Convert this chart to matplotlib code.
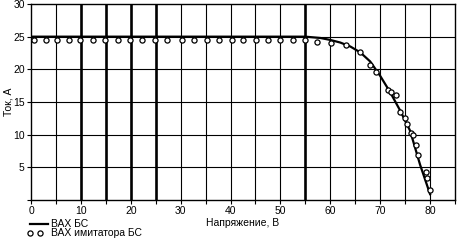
import matplotlib
matplotlib.use("Agg")
import matplotlib.pyplot as plt
from matplotlib.lines import Line2D

plt.rcParams['font.family'] = ['Liberation Sans', 'DejaVu Sans']

# Solar battery I-V curve (line)
bs_voltage = [0, 55, 58, 60, 62, 64, 66, 68, 70, 72, 74, 76, 78, 80]
bs_current = [25, 25, 24.8, 24.5, 24.1, 23.5, 22.6, 21.2, 19.0, 16.5, 13.7, 10.6, 5.4, 0.9]

# Simulator I-V points (circles)
sim_voltage = [0.7, 3.1, 5.2, 7.6, 9.8, 12.5, 14.8, 17.4, 19.8, 22.3, 24.8, 27.2,
               30.2, 32.7, 35.2, 37.6, 40.2, 42.6, 45.2, 47.5, 50.0, 52.5, 54.9,
               57.3, 60.2, 63.2, 65.9, 67.9, 69.2, 71.5, 72.2, 73.2, 73.9, 74.9,
               75.3, 76.2, 76.5, 77.1, 77.5, 79.1, 79.3, 79.9]
sim_current = [24.55] * 23 + [24.2, 24.0, 23.7, 22.7, 20.7, 19.6, 16.9, 16.6, 16.1,
                              13.5, 12.5, 11.7, 10.2, 9.9, 8.4, 6.9, 4.3, 3.3, 1.5]

x_major = [0, 10, 20, 30, 40, 50, 60, 70, 80]
x_minor = [5, 15, 25, 35, 45, 55, 65, 75, 85]
y_ticks = [0, 5, 10, 15, 20, 25, 30]
y_labels = ['', '5', '10', '15', '20', '25', '30']
thick_v = [10, 15, 20, 25, 55]
thin_v = [5, 30, 35, 40, 45, 50, 60, 65, 70, 75, 80]
thin_h = [5, 10, 15, 20, 25]

W, H = 461, 246
fig = plt.figure(figsize=(W / 100, H / 100), dpi=100)
ax = fig.add_axes([31 / W, 46 / H, 424 / W, 196 / H])
ax.set_xlim(0, 85)
ax.set_ylim(0, 30)

for v in thin_v:
    ax.axvline(v, color='black', lw=0.8, zorder=1)
for v in thick_v:
    ax.axvline(v, color='black', lw=1.9, zorder=1)
for h in thin_h:
    ax.axhline(h, color='black', lw=0.8, zorder=1)

ax.plot(bs_voltage, bs_current, color='black', lw=1.6, zorder=3)
ax.plot(sim_voltage, sim_current, ls='none', marker='o', ms=3.7,
        mfc='white', mec='black', mew=0.9, zorder=4)

ax.set_xticks(x_major)
ax.set_xticks(x_minor, minor=True)
ax.set_yticks(y_ticks)
ax.set_yticklabels(y_labels)
ax.tick_params(axis='both', which='both', direction='out', length=3, width=0.8,
               labelsize=7.5, pad=1.5, color='black')
for s in ax.spines.values():
    s.set_linewidth(1.0)

ax.set_xlabel('Напряжение, В', fontsize=7.5, labelpad=1)
ax.set_ylabel('Ток, А', fontsize=7.5)
ax.yaxis.set_label_coords(-18 / 424, 0.5)

# Legend (drawn manually, below the plot)
fx = lambda px: px / W
fy = lambda py: (H - py) / H
fig.add_artist(Line2D([fx(30), fx(48)], [fy(224), fy(224)], color='black', lw=1.6,
                      transform=fig.transFigure))
fig.add_artist(Line2D([fx(29.5), fx(39.5)], [fy(232.5), fy(232.5)], ls='none', marker='o',
                      ms=3.7, mfc='white', mec='black', mew=0.9, transform=fig.transFigure))
fig.text(fx(51), fy(224), 'ВАХ БС', fontsize=7.5, va='center', ha='left')
fig.text(fx(51), fy(232.5), 'ВАХ имитатора БС', fontsize=7.5, va='center', ha='left')

fig.savefig('out.png', dpi=100)
